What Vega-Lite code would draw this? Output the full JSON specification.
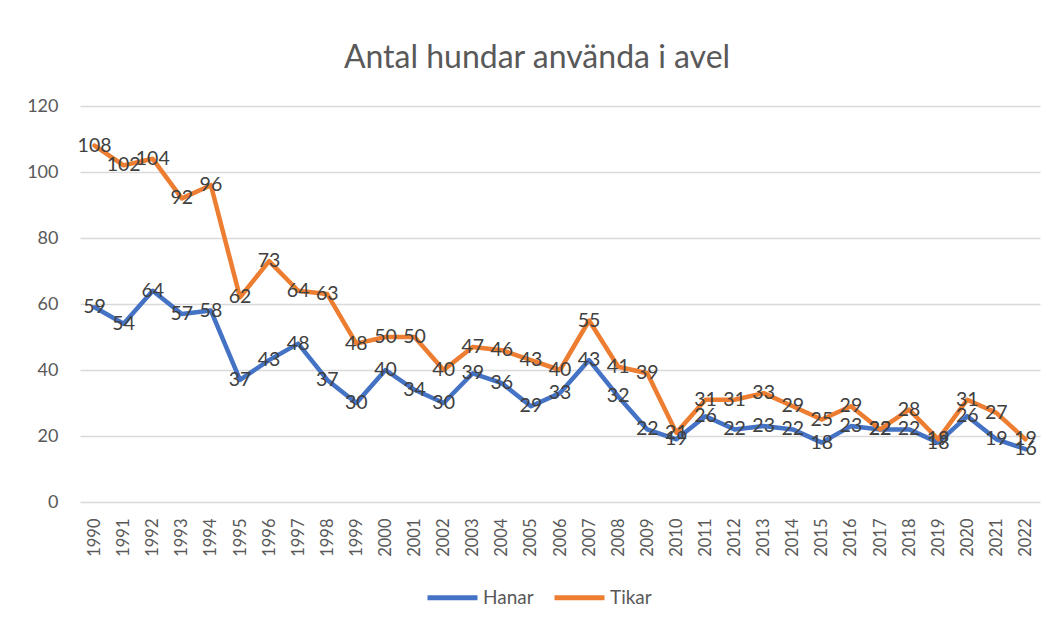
{
  "$schema": "https://vega.github.io/schema/vega-lite/v6.json",
  "width": 960,
  "height": 396,
  "autosize": {"type": "none"},
  "padding": {"left": 80, "top": 106, "right": 13, "bottom": 124},
  "background": "white",
  "title": {"text": "Antal hundar använda i avel", "fontSize": 32, "font": "Lato", "fontWeight": "normal", "color": "#595959", "anchor": "middle", "offset": 22, "dx": -23},
  "config": {
    "view": {"stroke": null},
    "font": "Lato"
  },
  "data": {"values": [
    {"year": "1990", "serie": "Hanar", "value": 59}, {"year": "1991", "serie": "Hanar", "value": 54},
    {"year": "1992", "serie": "Hanar", "value": 64}, {"year": "1993", "serie": "Hanar", "value": 57},
    {"year": "1994", "serie": "Hanar", "value": 58}, {"year": "1995", "serie": "Hanar", "value": 37},
    {"year": "1996", "serie": "Hanar", "value": 43}, {"year": "1997", "serie": "Hanar", "value": 48},
    {"year": "1998", "serie": "Hanar", "value": 37}, {"year": "1999", "serie": "Hanar", "value": 30},
    {"year": "2000", "serie": "Hanar", "value": 40}, {"year": "2001", "serie": "Hanar", "value": 34},
    {"year": "2002", "serie": "Hanar", "value": 30}, {"year": "2003", "serie": "Hanar", "value": 39},
    {"year": "2004", "serie": "Hanar", "value": 36}, {"year": "2005", "serie": "Hanar", "value": 29},
    {"year": "2006", "serie": "Hanar", "value": 33}, {"year": "2007", "serie": "Hanar", "value": 43},
    {"year": "2008", "serie": "Hanar", "value": 32}, {"year": "2009", "serie": "Hanar", "value": 22},
    {"year": "2010", "serie": "Hanar", "value": 19}, {"year": "2011", "serie": "Hanar", "value": 26},
    {"year": "2012", "serie": "Hanar", "value": 22}, {"year": "2013", "serie": "Hanar", "value": 23},
    {"year": "2014", "serie": "Hanar", "value": 22}, {"year": "2015", "serie": "Hanar", "value": 18},
    {"year": "2016", "serie": "Hanar", "value": 23}, {"year": "2017", "serie": "Hanar", "value": 22},
    {"year": "2018", "serie": "Hanar", "value": 22}, {"year": "2019", "serie": "Hanar", "value": 18},
    {"year": "2020", "serie": "Hanar", "value": 26}, {"year": "2021", "serie": "Hanar", "value": 19},
    {"year": "2022", "serie": "Hanar", "value": 16},
    {"year": "1990", "serie": "Tikar", "value": 108}, {"year": "1991", "serie": "Tikar", "value": 102},
    {"year": "1992", "serie": "Tikar", "value": 104}, {"year": "1993", "serie": "Tikar", "value": 92},
    {"year": "1994", "serie": "Tikar", "value": 96}, {"year": "1995", "serie": "Tikar", "value": 62},
    {"year": "1996", "serie": "Tikar", "value": 73}, {"year": "1997", "serie": "Tikar", "value": 64},
    {"year": "1998", "serie": "Tikar", "value": 63}, {"year": "1999", "serie": "Tikar", "value": 48},
    {"year": "2000", "serie": "Tikar", "value": 50}, {"year": "2001", "serie": "Tikar", "value": 50},
    {"year": "2002", "serie": "Tikar", "value": 40}, {"year": "2003", "serie": "Tikar", "value": 47},
    {"year": "2004", "serie": "Tikar", "value": 46}, {"year": "2005", "serie": "Tikar", "value": 43},
    {"year": "2006", "serie": "Tikar", "value": 40}, {"year": "2007", "serie": "Tikar", "value": 55},
    {"year": "2008", "serie": "Tikar", "value": 41}, {"year": "2009", "serie": "Tikar", "value": 39},
    {"year": "2010", "serie": "Tikar", "value": 21}, {"year": "2011", "serie": "Tikar", "value": 31},
    {"year": "2012", "serie": "Tikar", "value": 31}, {"year": "2013", "serie": "Tikar", "value": 33},
    {"year": "2014", "serie": "Tikar", "value": 29}, {"year": "2015", "serie": "Tikar", "value": 25},
    {"year": "2016", "serie": "Tikar", "value": 29}, {"year": "2017", "serie": "Tikar", "value": 22},
    {"year": "2018", "serie": "Tikar", "value": 28}, {"year": "2019", "serie": "Tikar", "value": 19},
    {"year": "2020", "serie": "Tikar", "value": 31}, {"year": "2021", "serie": "Tikar", "value": 27},
    {"year": "2022", "serie": "Tikar", "value": 19}
  ]},
  "encoding": {
    "x": {
      "field": "year", "type": "ordinal", "title": null,
      "scale": {"type": "point", "padding": 0.5},
      "axis": {"labelAngle": -90, "labelFontSize": 16.5, "labelColor": "#595959", "labelPadding": 16, "domain": false, "ticks": false, "grid": false, "labelFont": "Lato"}
    },
    "y": {
      "field": "value", "type": "quantitative", "title": null,
      "scale": {"domain": [0, 120], "nice": false},
      "axis": {"values": [0, 20, 40, 60, 80, 100, 120], "labelFontSize": 18, "labelColor": "#595959", "labelPadding": 22, "domain": false, "ticks": false, "gridColor": "#d9d9d9", "gridWidth": 1.3, "labelFont": "Lato"}
    }
  },
  "layer": [
    {
      "mark": {"type": "line", "strokeWidth": 4.5, "strokeJoin": "round", "strokeCap": "round"},
      "encoding": {
        "color": {
          "field": "serie", "type": "nominal",
          "scale": {"domain": ["Hanar", "Tikar"], "range": ["#4472C4", "#ED7D31"]},
          "legend": {
            "title": null, "orient": "none", "direction": "horizontal",
            "legendX": 345, "legendY": 464,
            "symbolType": "stroke", "symbolSize": 2500, "symbolStrokeWidth": 5,
            "labelFontSize": 19, "labelColor": "#595959", "labelOffset": 3, "columnPadding": 10, "labelFont": "Lato"
          }
        }
      }
    },
    {
      "mark": {"type": "text", "fontSize": 19.5, "color": "#404040", "align": "center", "baseline": "middle", "font": "Lato"},
      "encoding": {
        "text": {"field": "value", "type": "quantitative"}
      }
    }
  ]
}
